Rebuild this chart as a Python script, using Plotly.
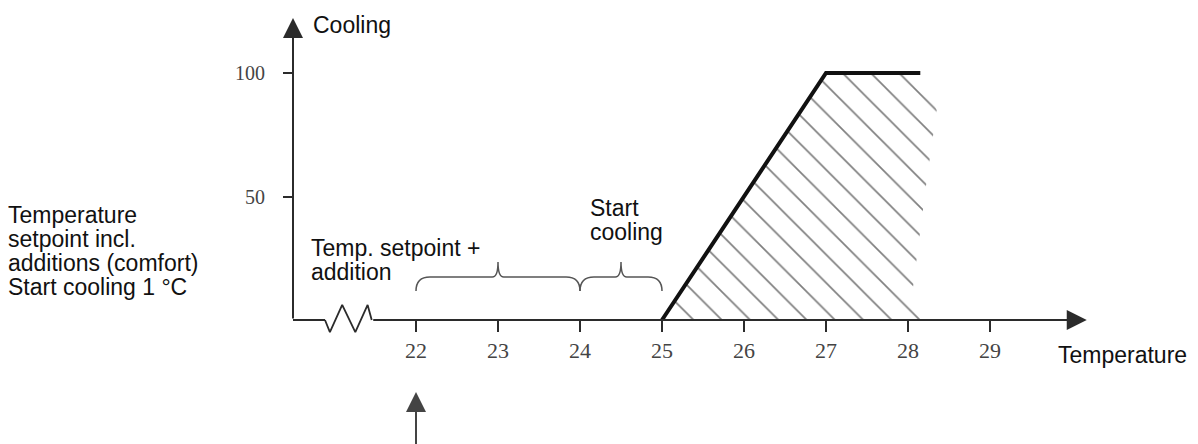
import plotly.graph_objects as go

# cooling output vs temperature
temp = [25, 27, 28.15]
cooling = [0, 100, 100]

# outline of the hatched area
hatch_temp = [25, 27, 28.15, 28.35, 28.23, 28.06, 28.15]
hatch_cooling = [0, 100, 100, 85, 57, 13, 0]

x_ticks = [22, 23, 24, 25, 26, 27, 28, 29]
y_ticks = [50, 100]
y_ticktext = ['50', '100']

# axis break on the temperature axis
break_x = [20.89, 20.95, 21.1, 21.26, 21.41, 21.46]
break_y = [0, -4.9, 6.1, -4.9, 6.1, 0]

# brace spans (from, to)
braces = [(22, 24), (24, 25)]

AXIS = '#2b2b2b'
SERIF = 'Liberation Serif, Times New Roman, serif'
SANS = 'Liberation Sans, Arial, sans-serif'

# 82 px per degree, 2.47 px per cooling unit; page has an 8px body offset
x0, x1 = 18.5, 31.5
y1 = (312 - 2) / 2.47
y0 = y1 - 436 / 2.47


def brace_path(a, b):
    # curly brace opening downwards, in data coords
    m = (a + b) / 2
    yb, yh, yp = 11.7, 17.4, 23.5
    r, c = 0.17, 0.07
    return (f'M{a},{yb} Q{a},{yh} {a + r},{yh} L{m - c},{yh} Q{m},{yh} {m},{yp} '
            f'Q{m},{yh} {m + c},{yh} L{b - r},{yh} Q{b},{yh} {b},{yb}')


fig = go.Figure()

fig.add_trace(go.Scatter(x=hatch_temp, y=hatch_cooling, fill='toself', mode='lines',
                         line=dict(width=0), fillcolor='rgba(0,0,0,0)',
                         fillpattern=dict(shape='\\', size=20, solidity=0.085,
                                          fgcolor='#000', bgcolor='rgba(0,0,0,0)'),
                         hoverinfo='skip'))
fig.add_trace(go.Scatter(x=temp, y=cooling, mode='lines',
                         line=dict(color='#111', width=4)))
# axis pieces
fig.add_trace(go.Scatter(x=[20.5, break_x[0]], y=[0, 0], mode='lines',
                         line=dict(color=AXIS, width=2)))
fig.add_trace(go.Scatter(x=break_x, y=break_y, mode='lines',
                         line=dict(color=AXIS, width=1.8)))

for a, b in braces:
    fig.add_shape(type='path', path=brace_path(a, b), xref='x', yref='y',
                  line=dict(color='#555', width=1.5))

# arrows
arrow = dict(text='', showarrow=True, arrowhead=2, arrowsize=2, arrowwidth=2,
             arrowcolor=AXIS, standoff=0)
fig.add_annotation(x=30.18, y=0, ax=break_x[-1], ay=0, axref='x', ayref='y', **arrow)
fig.add_annotation(x=20.5, y=122.3, ax=20.5, ay=0, axref='x', ayref='y', **arrow)
fig.add_annotation(x=22, y=-29.1, ax=0, ay=60, **dict(arrow, arrowcolor='#444'))

txt = dict(showarrow=False, xanchor='left', yanchor='middle',
           font=dict(family=SANS, size=23, color='#111'))
fig.add_annotation(x=20.72, y=119.4, text='Cooling', **txt)
fig.add_annotation(x=29.8, y=-14.2, text='Temperature', **txt)
fig.add_annotation(x=20.695, y=29.2, text='Temp. setpoint +', **txt)
fig.add_annotation(x=20.695, y=19.4, text='addition', **txt)
fig.add_annotation(x=24.1, y=45.5, text='Start', **txt)
fig.add_annotation(x=24.1, y=35.8, text='cooling', **txt)

left_lines = ['Temperature', 'setpoint incl.', 'additions (comfort)', 'Start cooling 1 °C']
left_y = [42.5, 32.8, 23.1, 13.4]
for t, yy in zip(left_lines, left_y):
    fig.add_annotation(x=-0.115, xref='paper', y=yy, text=t, **txt)

fig.update_layout(
    width=1198, height=444,
    margin=dict(l=121, r=11, t=2, b=6),
    plot_bgcolor='white', paper_bgcolor='white',
    showlegend=False,
    xaxis=dict(range=[x0, x1], anchor='free', position=(0 - y0) / (y1 - y0),
               showgrid=False, zeroline=False, showline=False,
               tickvals=x_ticks, ticks='outside', ticklen=11, tickwidth=2, tickcolor=AXIS,
               tickfont=dict(family=SERIF, size=22, color='#444'), ticklabelstandoff=0),
    yaxis=dict(range=[y0, y1], anchor='free', position=(20.5 - x0) / (x1 - x0),
               showgrid=False, zeroline=False, showline=False,
               tickvals=y_ticks, ticktext=y_ticktext, ticks='outside', ticklen=10,
               tickwidth=2, tickcolor=AXIS,
               tickfont=dict(family=SERIF, size=20, color='#444'), ticklabelstandoff=14),
)

fig.write_html('out.html')
